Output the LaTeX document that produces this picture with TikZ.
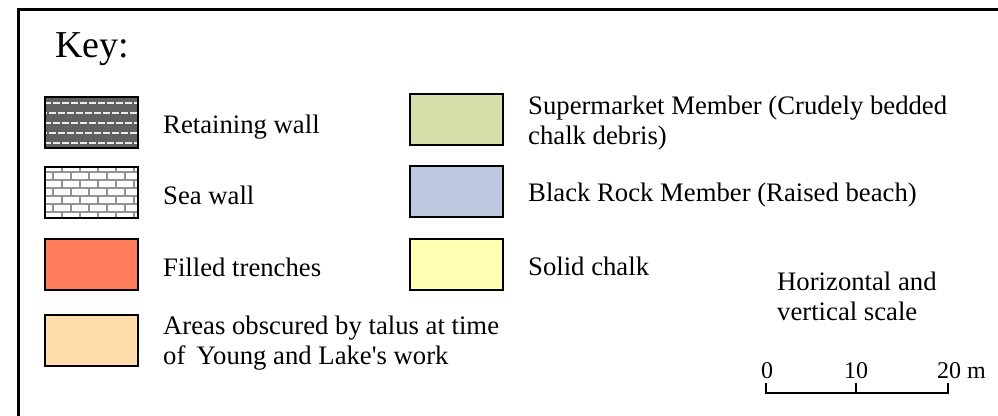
\documentclass[tikz,border=0pt]{standalone}
\usepackage{fontspec}
\setmainfont{Liberation Serif}
\definecolor{trench}{RGB}{255,125,90}
\definecolor{talus}{RGB}{255,220,170}
\definecolor{supermkt}{RGB}{214,222,170}
\definecolor{blackrock}{RGB}{190,200,225}
\definecolor{chalk}{RGB}{255,255,180}
\definecolor{rwall}{RGB}{95,95,95}
\newcommand\twolines[2]{\begin{tabular}[t]{@{}l@{}}#1\\#2\end{tabular}}
\tikzset{
  swatch/.style={draw=black, line width=2pt, minimum width=93pt, minimum height=51pt, inner sep=0pt, anchor=north west},
  label/.style={anchor=base west, inner sep=0pt, font=\fontsize{26.7}{30}\selectfont},
  scalelbl/.style={anchor=base, inner sep=0pt, font=\fontsize{24}{28}\selectfont},
  brick/.style={draw=gray!85, line width=1.2pt},
  rbrick/.style={draw=white!85!gray, line width=1.6pt}
}
\begin{document}
\begin{tikzpicture}[x=1pt,y=-1pt]
\useasboundingbox (0,0) rectangle (998,415);
\begin{scope}
\clip (0,0) rectangle (998,415);
\draw[line width=3pt] (18.5,9.5) rectangle (1010,430);
\end{scope}

\node[anchor=base west, inner sep=0pt, font=\fontsize{38}{42}\selectfont] (key) at (55,57) {Key:};

% retaining wall pattern
\begin{scope}
\clip (44,96) rectangle (137,147);
\fill[rwall] (44,96) rectangle (137,147);
\foreach \r in {0,...,4} {
  \pgfmathsetmacro\yy{103+10*\r}
  \pgfmathsetmacro\ph{mod(\r,2)*4}
  \draw[rbrick, dash pattern=on 7pt off 2pt, dash phase=\ph pt] (44,\yy) -- (137,\yy);
  \pgfmathsetmacro\yb{\yy+4}
  \draw[draw=gray!80!black, line width=1pt, dash pattern=on 3pt off 2pt] (44,\yb) -- (137,\yb);
}
\end{scope}
\node[swatch] (retain) at (44,96) {};

% sea wall pattern
\begin{scope}
\clip (44,166) rectangle (137,217);
\fill[white] (44,166) rectangle (137,217);
\foreach \r in {0,...,5} {
  \pgfmathsetmacro\yy{172+8*\r}
  \draw[brick] (44,\yy) -- (137,\yy);
}
\foreach \r in {0,...,6} {
  \foreach \c in {0,...,5} {
    \pgfmathsetmacro\xx{44+9*mod(\r,2)+18*\c}
    \pgfmathsetmacro\ya{164+8*\r}
    \pgfmathsetmacro\yb{172+8*\r}
    \draw[brick] (\xx,\ya) -- (\xx,\yb);
  }
}
\end{scope}
\node[swatch] (seawall) at (44,166) {};

\node[swatch, fill=trench] (trench) at (44,238) {};
\node[swatch, fill=talus] (talus) at (44,314) {};

\node[swatch, fill=supermkt] (super) at (409,93) {};
\node[swatch, fill=blackrock] (black) at (409,165) {};
\node[swatch, fill=chalk] (chalk) at (409,238) {};

\node[label] (t1) at (163,133) {Retaining wall};
\node[label] (t2) at (163,204) {Sea wall};
\node[label] (t3) at (163,276) {Filled trenches};
\node[label] (t4) at (163,334) {\twolines{Areas obscured by talus at time}{of\, Young and Lake\textquotesingle s work}};

\node[label] (t5) at (528,114) {\twolines{Supermarket Member (Crudely bedded}{chalk debris)}};
\node[label] (t6) at (528,201) {Black Rock Member (Raised beach)};
\node[label] (t7) at (528,275) {Solid chalk};

\node[label] (t8) at (777,290) {\twolines{Horizontal and}{vertical scale}};

% scale bar
\coordinate (s0) at (766,393);
\coordinate (s10) at (856,393);
\coordinate (s20) at (948,393);
\coordinate (s0t) at (766,383);
\coordinate (s10t) at (856,383);
\coordinate (s20t) at (948,383);
\draw[line width=2pt] (s0t) -- (s0) -- (s20) -- (s20t);
\draw[line width=2pt] (s10) -- (s10t);
\node[scalelbl] (n0) at (767,378) {0};
\node[scalelbl] (n10) at (856,378) {10};
\node[scalelbl, anchor=base west] (n20) at (937,378) {20 m};
\end{tikzpicture}
\end{document}
